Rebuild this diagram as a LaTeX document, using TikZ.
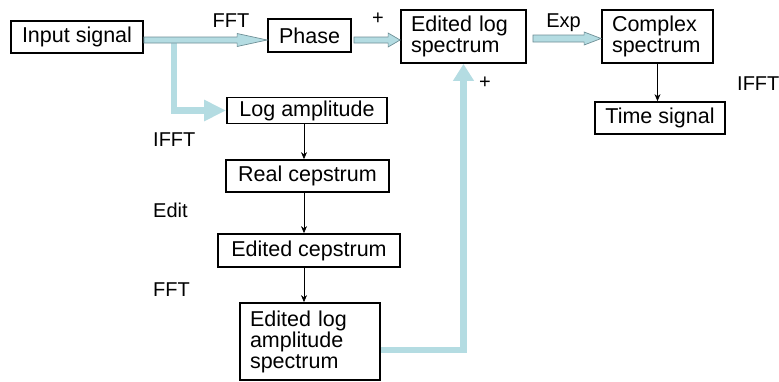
\documentclass[tikz,border=0pt]{standalone}
\usepackage{fontspec}
\setmainfont{Liberation Sans}
\usetikzlibrary{arrows.meta,calc}
\definecolor{lblue}{HTML}{B4DCE2}
\definecolor{agray}{HTML}{6E8F96}
\begin{document}
\begin{tikzpicture}[x=1pt,y=-1pt,
  box/.style={draw=black, line width=1.8pt, inner sep=0pt, font=\fontsize{21.5}{21}\selectfont, align=center},
  lbl/.style={font=\fontsize{20}{20}\selectfont, inner sep=0pt},
  thinarrow/.style={draw=black, line width=0.7pt, -{Stealth[length=7pt,width=6pt]}},
  heavy/.style={draw=lblue, line width=6.5pt, line join=miter},
  blockarr/.style={draw=agray, fill=lblue, line width=0.7pt, line join=miter}
]
\useasboundingbox (0,0) rectangle (779,381);

% boxes
\node[box, minimum width=132pt, minimum height=32pt] (in) at (77,37) {Input signal};
\node[box, minimum width=83pt, minimum height=33pt] (ph) at (309.5,35.5) {Phase};
\node[box, minimum width=125pt, minimum height=53pt, text width=105pt, align=left] (els) at (463.5,36.5) {Edited log\\spectrum};
\node[box, minimum width=111pt, minimum height=53pt, text width=91pt, align=left] (cs) at (657.5,36.5) {Complex\\spectrum};
\node[box, minimum width=130pt, minimum height=32pt] (ts) at (660,118) {Time signal};
\node[box, minimum width=160pt, minimum height=26pt] (la) at (307,110.5) {Log amplitude};
\node[box, minimum width=163pt, minimum height=32pt] (rc) at (307.5,176) {Real cepstrum};
\node[box, minimum width=182pt, minimum height=33pt] (ec) at (309,250.5) {Edited cepstrum};
\node[box, minimum width=140pt, minimum height=77pt, text width=120pt, align=left] (elas) at (310,341.5) {Edited log\\amplitude\\spectrum};

% labels
\node[lbl] (lfft) at (231,21) {FFT};
\node[lbl] (lp1) at (378,19) {+};
\node[lbl, anchor=base] (lexp) at (563.5,27) {Exp};
\node[lbl, anchor=west] (lifft2) at (737,84) {IFFT};
\node[lbl] (lp2) at (485,83) {+};
\node[lbl, anchor=west] (lifft) at (153,140) {IFFT};
\node[lbl, anchor=west] (ledit) at (153,210) {Edit};
\node[lbl, anchor=west] (lfft2) at (153,290) {FFT};

% heavy light-blue arrows
\coordinate (s1) at ($(in.east)+(0,3)$);
\coordinate (b0) at ($(s1)+(30,0)$);
\draw[heavy, -{Triangle[length=22pt,width=20pt]}] (b0) |- (la.west);
\coordinate (v0) at ($(elas.east)+(0,8.5)$);
\draw[heavy, -{Triangle[length=17pt,width=20pt]}] (v0) -| (els.south);

% block arrows
\coordinate (t1) at (ph.west |- s1);
\draw[blockarr] ($(s1)+(0,-3)$) -- ($(t1)+(-30,-3)$) -- ++(0,-3.5) -- (t1)
  -- ($(t1)+(-30,6.5)$) -- ++(0,-3.5) -- ($(s1)+(0,3)$) -- cycle;
\coordinate (s2) at ($(ph.east)+(2,4.5)$);
\coordinate (t2) at (els.west |- s2);
\draw[blockarr] ($(s2)+(0,-3)$) -- ($(t2)+(-12,-3)$) -- ++(0,-4) -- (t2)
  -- ($(t2)+(-12,7)$) -- ++(0,-4) -- ($(s2)+(0,3)$) -- cycle;
\coordinate (s3) at ($(els.east)+(6,2)$);
\coordinate (t3) at (cs.west |- s3);
\draw[blockarr] ($(s3)+(0,-3.5)$) -- ($(t3)+(-17,-3.5)$) -- ++(0,-3) -- (t3)
  -- ($(t3)+(-17,6.5)$) -- ++(0,-3) -- ($(s3)+(0,3.5)$) -- cycle;

% thin arrows
\coordinate (vx) at (304,0);
\draw[thinarrow] (la.south -| vx) -- (rc.north -| vx);
\draw[thinarrow] (rc.south -| vx) -- (ec.north -| vx);
\draw[thinarrow] (ec.south -| vx) -- (elas.north -| vx);
\draw[thinarrow] (cs.south) -- (cs.south |- ts.north);
\end{tikzpicture}
\end{document}
